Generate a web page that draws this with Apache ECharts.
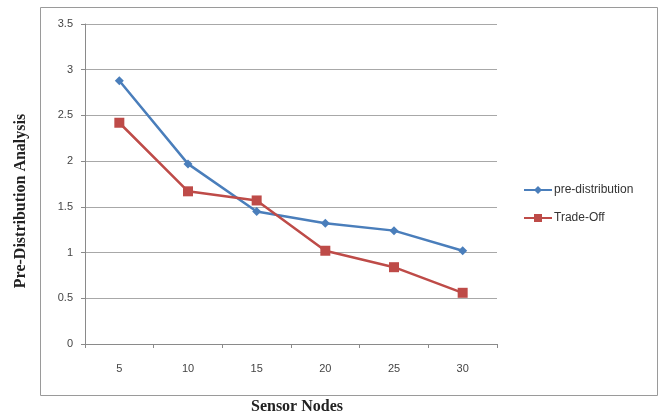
<!DOCTYPE html>
<html><head><meta charset="utf-8">
<script src="https://cdn.jsdelivr.net/npm/echarts@6/dist/echarts.min.js"></script>
<style>html,body{margin:0;padding:0;background:#fff}#c{width:663px;height:414px}</style>
</head><body><div id="c"></div>
<script>
const categories = ['5','10','15','20','25','30'];
const preDistribution = [2.88, 1.97, 1.45, 1.32, 1.24, 1.02];
const tradeOff = [2.42, 1.67, 1.57, 1.02, 0.84, 0.56];
const seriesNames = ['pre-distribution','Trade-Off'];
const xTitle = 'Sensor Nodes';
const yTitle = 'Pre-Distribution Analysis';

const titleFont = {fontFamily:'Liberation Serif, Times New Roman',fontWeight:'bold',fontSize:16,fill:'#222'};
const chart = echarts.init(document.getElementById('c'));
chart.setOption({
  animation:false,
  backgroundColor:'#fff',
  graphic:[
    {type:'rect',shape:{x:40.5,y:7.5,width:617,height:388},style:{fill:'none',stroke:'#9a9a9a',lineWidth:1},z:-1},
    {type:'text',x:297,y:407,style:Object.assign({text:xTitle,align:'center',verticalAlign:'middle'},titleFont)},
    {type:'text',x:21,y:201,rotation:Math.PI/2,style:Object.assign({text:yTitle,align:'center',verticalAlign:'middle'},titleFont)}
  ],
  grid:{left:85,right:166,top:24,bottom:70,outerBoundsMode:'none',containLabel:false},
  legend:{orient:'vertical',left:518,top:179,itemGap:16,itemWidth:28,itemHeight:10,
    textStyle:{fontFamily:'Liberation Sans, Arial',fontSize:12,color:'#333',padding:[0,0,0,-3]},
    data:seriesNames},
  xAxis:{type:'category',data:categories,boundaryGap:true,
    axisLine:{lineStyle:{color:'#8a8a8a'}},
    axisTick:{show:true,inside:false,length:4,lineStyle:{color:'#8a8a8a'}},
    axisLabel:{margin:19,fontFamily:'Liberation Sans, Arial',fontSize:11,color:'#444'}},
  yAxis:{type:'value',min:0,max:3.5,interval:0.5,
    axisLine:{show:true,lineStyle:{color:'#8a8a8a'}},
    axisTick:{show:true,length:4,lineStyle:{color:'#8a8a8a'}},
    axisLabel:{margin:12,fontFamily:'Liberation Sans, Arial',fontSize:11,color:'#444'},
    splitLine:{lineStyle:{color:'#a8a8a8',width:1}}},
  series:[
    {name:seriesNames[0],type:'line',data:preDistribution,symbol:'diamond',symbolSize:9,
      lineStyle:{color:'#4A7EBB',width:2.5},itemStyle:{color:'#4A7EBB'}},
    {name:seriesNames[1],type:'line',data:tradeOff,symbol:'rect',symbolSize:10,
      lineStyle:{color:'#BE4B48',width:2.5},itemStyle:{color:'#BE4B48'}}
  ]
});
</script></body></html>
